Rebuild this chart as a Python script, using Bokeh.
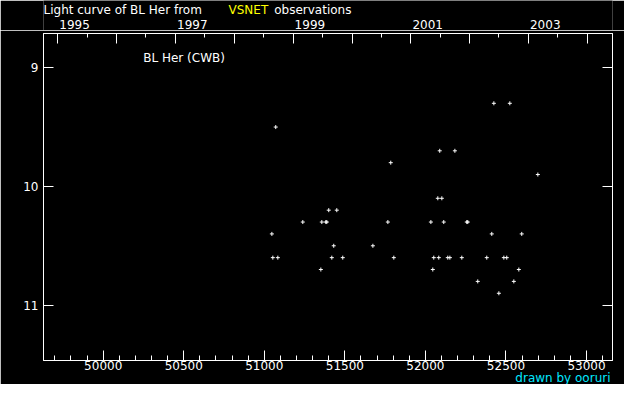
import datetime
from bokeh.plotting import figure
from bokeh.layouts import column
from bokeh.models import (Range1d, FixedTicker, LinearAxis, Label, Title,
                          CustomJSTickFormatter, ColumnDataSource)
from bokeh.core.properties import value
from bokeh.embed import file_html
from bokeh.resources import INLINE

# ---------------- data ----------------
jd = [52425, 52524, 51071, 52089, 52183, 51785, 52698, 52077, 52102,
      51400, 51450, 51239, 51357, 51382, 51388, 51767, 52034, 52114,
      52257, 52263, 51047, 52412, 52598, 51431, 51674, 51053, 51084,
      51419, 51487, 51804, 52052, 52083, 52139, 52152, 52226, 52381,
      52487, 52505, 51351, 52046, 52580, 52325, 52549, 52456]
mag = [9.3, 9.3, 9.5, 9.7, 9.7, 9.8, 9.9, 10.1, 10.1,
       10.2, 10.2, 10.3, 10.3, 10.3, 10.3, 10.3, 10.3, 10.3,
       10.3, 10.3, 10.4, 10.4, 10.4, 10.5, 10.5, 10.6, 10.6,
       10.6, 10.6, 10.6, 10.6, 10.6, 10.6, 10.6, 10.6, 10.6,
       10.6, 10.6, 10.7, 10.7, 10.7, 10.8, 10.8, 10.9]

x_ticks = [50000, 50500, 51000, 51500, 52000, 52500, 53000]
x_minor = list(range(49700, 53200, 100))
y_ticks = [9, 10, 11]
years = list(range(1995, 2005))
year_labels = [1995, 1997, 1999, 2001, 2003]
title_parts = ["Light curve of BL Her from", "VSNET", "observations"]
title_colors = ["white", "#ffff00", "white"]

X0, X1 = 49629.4, 53161.4

FONT = "DejaVu Sans"
W = 624
HH = 30                      # header height
MH = 384 - HH                # main figure height
BL, BR = 43, 12
FRAME_TOP, FRAME_BOT = 33, 358   # canvas rows of the plot frame
PX_PER_MAG = 118.0
Y1 = 8.712
Y0 = Y1 + (FRAME_BOT - FRAME_TOP) / PX_PER_MAG

def jd_of(y, m=1, d=1):
    return (datetime.date(y, m, d) - datetime.date(1858, 11, 17)).days + 0.5

year_jd = [jd_of(y) for y in years]
half_jd = [jd_of(y, 7, 1) for y in years]

def px_to_jd(xc):
    return X0 + (xc - BL) / (W - BL - BR) * (X1 - X0)

# ---------------- header (title + year labels) ----------------
hd = figure(width=W, height=HH, output_backend="svg", toolbar_location=None,
            x_range=Range1d(X0, X1), y_range=Range1d(HH, 0),
            x_axis_type=None, y_axis_type=None)
hd.min_border_left = BL
hd.min_border_right = BR
hd.min_border_top = hd.min_border_bottom = 0
hd.grid.visible = False
hd.outline_line_color = None
hd.background_fill_color = "black"
hd.border_fill_color = "black"

htxt = title_parts + [str(y) for y in year_labels]
hx = [px_to_jd(43), px_to_jd(228), px_to_jd(273.7)] + \
     [jd_of(y) for y in year_labels]
hxo = [0, 0, 0] + [1.4] * len(year_labels)
hy = [9.5] * 3 + [24.0] * len(year_labels)
hc = title_colors + ["white"] * len(year_labels)
hd.text(x="x", y="y", text="t", text_color="c", x_offset="xo",
        source=ColumnDataSource(dict(x=hx, y=hy, t=htxt, c=hc, xo=hxo)),
        text_font=value(FONT), text_font_size="12px",
        text_align="left", text_baseline="alphabetic")

# ---------------- main plot ----------------
p = figure(width=W, height=MH, output_backend="svg", toolbar_location=None,
           x_range=Range1d(X0, X1), y_range=Range1d(Y0, Y1))
p.min_border_left = BL
p.min_border_right = BR
p.min_border_top = FRAME_TOP - HH
p.min_border_bottom = 0
p.background_fill_color = "black"
p.border_fill_color = "black"
p.outline_line_color = "white"
p.grid.visible = False

src = ColumnDataSource(dict(x=jd, y=mag))
p.scatter("x", "y", source=src, marker="cross", size=4, line_color="white",
          line_width=1)

def style(ax, tick_in=10, minor_in=5):
    ax.axis_line_color = "white"
    ax.major_tick_line_color = "white"
    ax.minor_tick_line_color = "white"
    ax.major_tick_in = tick_in
    ax.major_tick_out = 0
    ax.minor_tick_in = minor_in
    ax.minor_tick_out = 0
    ax.major_label_text_color = "white"
    ax.major_label_text_font = FONT
    ax.major_label_text_font_size = "12px"

xa = p.xaxis[0]
xa.ticker = FixedTicker(ticks=x_ticks, minor_ticks=x_minor)
style(xa)
xa.major_label_standoff = 0

ya = p.yaxis[0]
ya.ticker = FixedTicker(ticks=y_ticks, minor_ticks=[])
style(ya)
ya.major_label_standoff = 5

empty = CustomJSTickFormatter(code="return ''")
top = LinearAxis(ticker=FixedTicker(ticks=year_jd, minor_ticks=half_jd),
                 formatter=empty, major_label_standoff=0)
style(top, 10, 4)
p.add_layout(top, "above")

right = LinearAxis(ticker=FixedTicker(ticks=y_ticks, minor_ticks=[]),
                   formatter=empty, major_label_standoff=0)
style(right)
p.add_layout(right, "right")

credit = Title(text="drawn by ooruri", align="right", vertical_align="top",
               offset=2, text_color="#00e8ff", text_font=FONT,
               text_font_size="12px", text_font_style="normal", standoff=0)
try:
    credit.standoff = -4
except Exception:
    pass
p.add_layout(credit, "below")

p.add_layout(Label(x=px_to_jd(142.7),
                   y=Y1 + (57 - FRAME_TOP) / PX_PER_MAG,
                   text="BL Her (CWB)", text_color="white", text_font=FONT,
                   text_font_size="12px", text_align="left",
                   text_baseline="alphabetic"))

layout = column(hd, p, spacing=0)
open("out.html", "w").write(file_html(layout, INLINE))
